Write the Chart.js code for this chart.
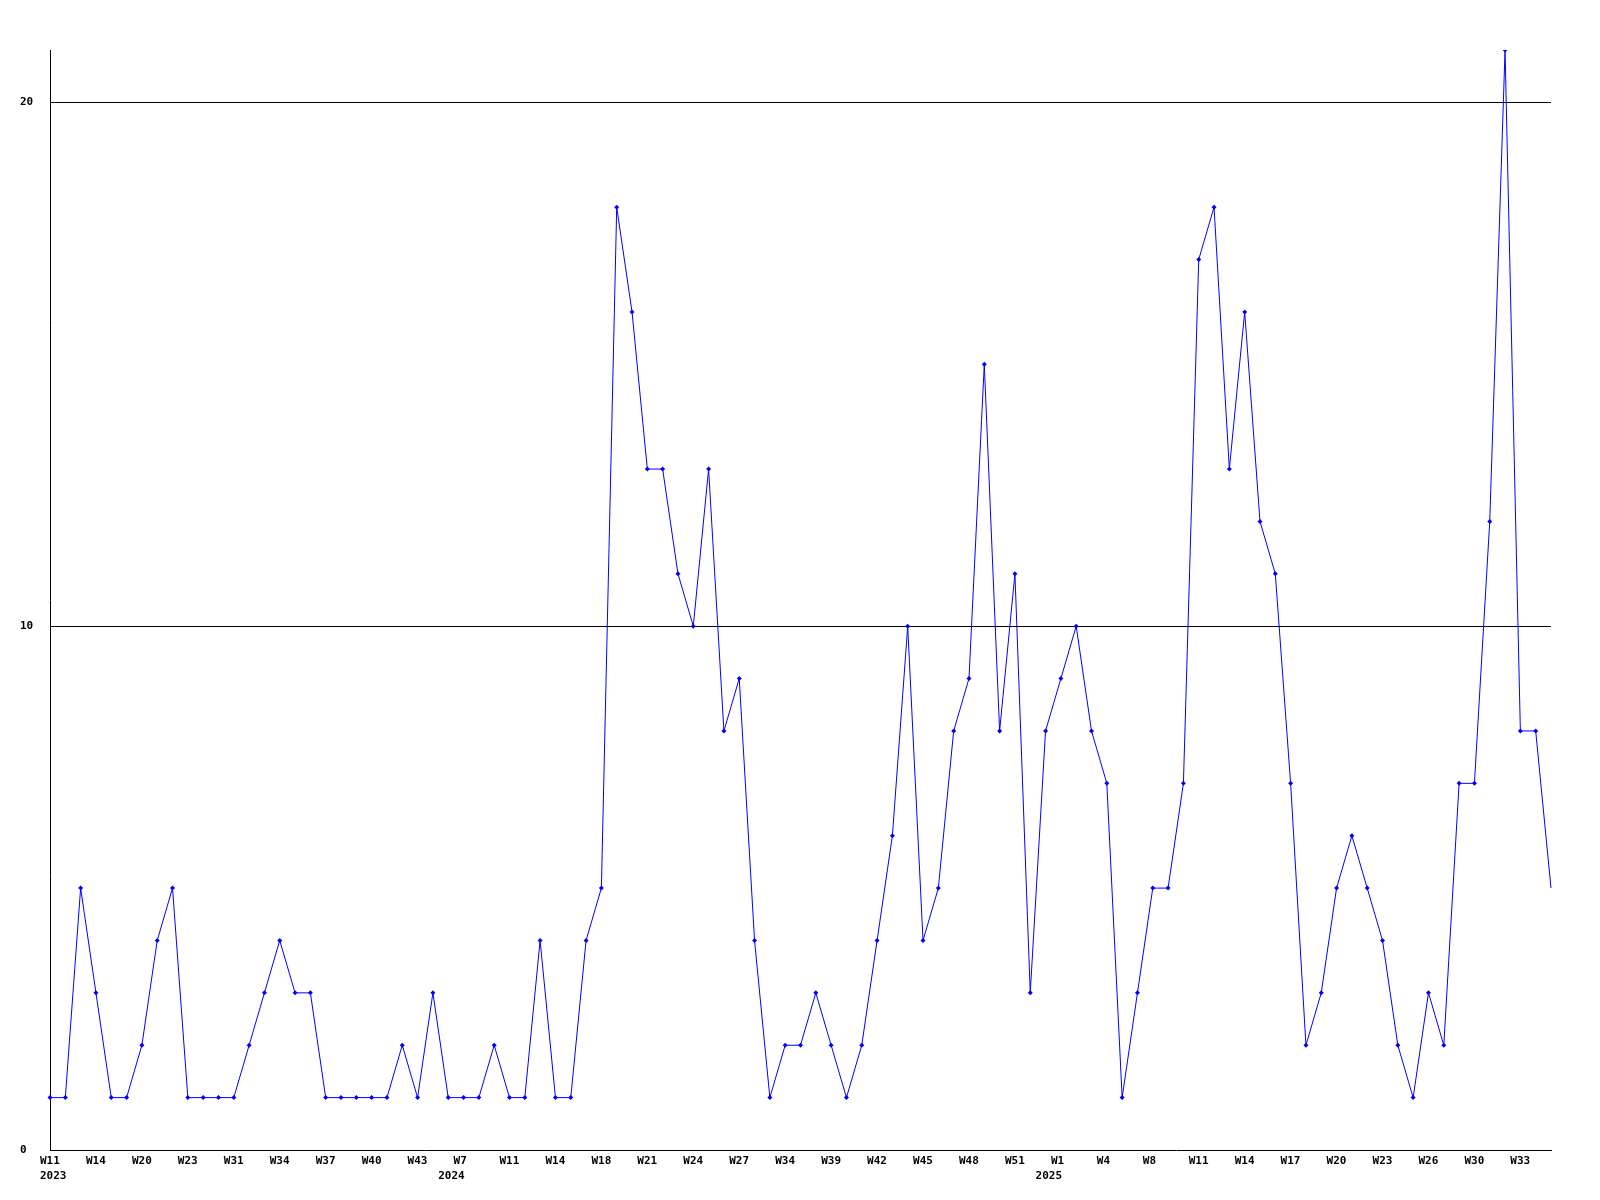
<!DOCTYPE html>
<html>
<head>
<meta charset="utf-8">
<script src="https://cdn.jsdelivr.net/npm/chart.js@4.4.1/dist/chart.umd.min.js"></script>
<style>
  body { margin: 0; background: #fff; }
  #wrap { width: 1600px; height: 1200px; }
</style>
</head>
<body>
<div id="wrap"><canvas id="weekChart" width="1600" height="1200"></canvas></div>
<script>
// semanas (una por punto), solo cada 3a se muestra
const weeks = [
  'W11','W12','W13','W14','W16','W18','W20','W21','W22','W23',
  'W25','W28','W31','W32','W33','W34','W35','W36','W37','W38',
  'W39','W40','W41','W42','W43','W44','W6','W7','W8','W9',
  'W11','W12','W13','W14','W15','W16','W18','W19','W20','W21',
  'W22','W23','W24','W25','W26','W27','W29','W31','W34','W36',
  'W37','W39','W40','W41','W42','W43','W44','W45','W46','W47',
  'W48','W49','W50','W51','W52','W52','W1','W2','W3','W4',
  'W5','W6','W8','W9','W10','W11','W12','W13','W14','W15',
  'W16','W17','W18','W19','W20','W21','W22','W23','W24','W25',
  'W26','W27','W29','W30','W31','W32','W33','W34','W35'
];
const years = ['2023', '2024', '2025'];
const yearStart = [0, 26, 65]; // índice donde empieza cada año

const counts = [
  1,1,5,3,1,1,2,4,5,1,
  1,1,1,2,3,4,3,3,1,1,
  1,1,1,2,1,3,1,1,1,2,
  1,1,4,1,1,4,5,18,16,13,
  13,11,10,13,8,9,4,1,2,2,
  3,2,1,2,4,6,10,4,5,8,
  9,15,8,11,3,8,9,10,8,7,
  1,3,5,5,7,17,18,13,16,12,
  11,7,2,3,5,6,5,4,2,1,
  3,2,7,7,12,21,8,8,5
];
const yTicks = [0, 10, 20];
const yMax = 21;

Chart.defaults.font.family = '"DejaVu Sans Mono", "Liberation Mono", monospace';
Chart.defaults.font.size = 11;
Chart.defaults.font.weight = 'bold';
Chart.defaults.color = '#000';

const ctx = document.getElementById('weekChart').getContext('2d');
const chart = new Chart(ctx, {
  type: 'line',
  data: {
    labels: weeks,
    datasets: [{
      data: counts,
      borderColor: '#0000ff',
      backgroundColor: '#0000ff',
      borderWidth: 1,
      tension: 0,
      fill: false,
      pointStyle: 'rectRot',
      pointRadius: c => c.dataIndex === counts.length - 1 ? 0 : 2.5,
      pointBorderWidth: 0
    }]
  },
  options: {
    responsive: false,
    animation: false,
    layout: { padding: { left: 20, top: 50, right: 49, bottom: 0 } },
    plugins: {
      legend: { display: false },
      tooltip: { enabled: false }
    },
    scales: {
      x: {
        type: 'category',
        offset: false,
        grid: { display: false, drawTicks: false },
        border: { display: true, color: '#000', width: 1 },
        ticks: {
          autoSkip: false,
          maxRotation: 0,
          minRotation: 0,
          align: 'start',
          labelOffset: -10,
          padding: 4,
          font: { lineHeight: 15 / 11 },
          callback: (v, i) => {
            const w = i % 3 === 0 ? weeks[i] : '';
            const k = yearStart.indexOf(i);
            return k >= 0 ? [w, years[k]] : w;
          }
        },
        afterFit: s => { s.height = 50; s.paddingLeft = 0; s.paddingRight = 0; }
      },
      y: {
        min: 0,
        max: yMax,
        grid: {
          drawTicks: false,
          color: c => (c.tick && (c.tick.value === 10 || c.tick.value === 20)) ? '#000' : 'rgba(0,0,0,0)'
        },
        border: { display: true, color: '#000', width: 1 },
        ticks: { crossAlign: 'far', padding: 0 },
        afterBuildTicks: s => { s.ticks = yTicks.map(v => ({ value: v })); },
        afterFit: s => { s.width = 30; s.paddingTop = 0; s.paddingBottom = 0; }
      }
    }
  }
});
</script>
</body>
</html>
